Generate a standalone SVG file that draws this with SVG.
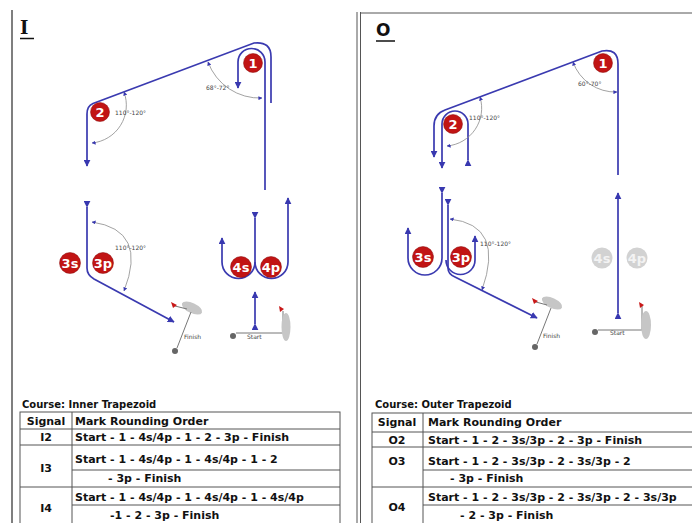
<svg xmlns="http://www.w3.org/2000/svg" width="692" height="523" viewBox="0 0 692 523">
<defs>
<marker id="arr" viewBox="0 0 10 10" refX="9" refY="5" markerWidth="7" markerHeight="7" orient="auto" markerUnits="userSpaceOnUse"><path d="M0 0 L10 5 L0 10 z" fill="#3838b0"/></marker>
<marker id="sarr" viewBox="0 0 10 10" refX="9" refY="5" markerWidth="4" markerHeight="4" orient="auto-start-reverse" markerUnits="userSpaceOnUse"><path d="M0 0 L10 5 L0 10 z" fill="#3838b0"/></marker>
</defs>
<style>
.c{fill:none;stroke:#3a3ab0;stroke-width:1.7}
.ang{fill:none;stroke:#8a8a8a;stroke-width:0.8}
.mk circle{fill:#c11414;stroke:#8a0b0b;stroke-width:.5}
.mk text{fill:#fff;font-family:"DejaVu Sans",sans-serif;font-weight:bold;font-size:13px;text-anchor:middle}
.gm circle{fill:#d2d2d2}
.gm text{fill:#f3f3f3;font-family:"DejaVu Sans",sans-serif;font-weight:bold;font-size:13px;text-anchor:middle}
.al{font-family:"DejaVu Sans",sans-serif;font-size:6px;fill:#444}
.sm{font-family:"DejaVu Sans",sans-serif;font-size:6px;fill:#444}
.t{font-family:"DejaVu Sans",sans-serif;font-weight:bold;font-size:11px;fill:#111}
.tc{text-anchor:middle}
.cap{font-family:"DejaVu Sans",sans-serif;font-weight:bold;font-size:10px;fill:#111}
.grid{stroke:#555;stroke-width:1;fill:none}
.boat{fill:#c6c6c6}
.flag{fill:#c81818}
.fl{stroke:#777;stroke-width:1;fill:none}
.pin{fill:#666}
.frame{stroke:#555;fill:none}
</style>
<rect width="692" height="523" fill="#fff"/>

<g id="frames">
<line class="frame" x1="12" y1="10" x2="12" y2="523" stroke-width="1.5"/>
<line class="frame" x1="357" y1="12" x2="357" y2="523" stroke="#999"/>
<line class="frame" x1="360.5" y1="12" x2="360.5" y2="523"/>
<line class="frame" x1="360" y1="13" x2="692" y2="13" stroke="#777"/>
</g>

<g id="titles">
<text x="20" y="34" font-family="DejaVu Serif, serif" font-weight="bold" font-size="18" fill="#111">I</text>
<line x1="20" y1="38.5" x2="34" y2="38.5" stroke="#111" stroke-width="1.5"/>
<text x="376" y="36" font-family="DejaVu Sans, sans-serif" font-weight="bold" font-size="17" fill="#111">O</text>
<line x1="376" y1="41" x2="395" y2="41" stroke="#111" stroke-width="1.5"/>
</g>

<g id="connectors">
<path class="c" d="M 271 103 L 271 57 Q 271 41 254 43 L 93 103.5 Q 87 106 87 114 L 87 166" marker-end="url(#arr)"/>
<path class="c" d="M 265 190 L 265 62 A 13.5 13.5 0 0 0 238 62 L 238 88" marker-end="url(#arr)"/>
<path class="c" d="M 87 207 L 87 268 Q 87 275 94 279 L 174 322" marker-start="url(#arr)" marker-end="url(#arr)"/>
<path class="c" d="M 255 218 L 255 262 A 16.5 16.5 0 0 1 222 262 L 222 238" marker-start="url(#arr)" marker-end="url(#arr)"/>
<path class="c" d="M 255 262 A 16.5 16.5 0 0 0 288 262 L 288 198" marker-end="url(#arr)"/>
<path class="c" d="M 255 324 L 255 292" marker-start="url(#arr)" marker-end="url(#arr)"/>
<path class="c" d="M 618 175 L 618 64 Q 618 48 602 51 L 445 110 Q 434 114 434 126 L 434 157" marker-end="url(#arr)"/>
<path class="c" d="M 468 160 L 468 124 A 13 13 0 0 0 442 124 L 442 168" marker-start="url(#arr)" marker-end="url(#arr)"/>
<path class="c" d="M 442 193 L 442 258 A 17 17 0 0 1 408 258 L 408 228" marker-start="url(#arr)" marker-end="url(#arr)"/>
<path class="c" d="M 446 260 A 14.5 14.5 0 0 0 475 260 L 475 236" marker-end="url(#arr)"/>
<path class="c" d="M 448 205 L 448 268 Q 448 274 455 277 L 537 318" marker-start="url(#arr)" marker-end="url(#arr)"/>
<path class="c" d="M 618 313 L 618 193" marker-start="url(#arr)" marker-end="url(#arr)"/>
</g>

<g id="angles">
<path class="ang" d="M 208 62 A 55 55 0 0 0 262 98" marker-start="url(#sarr)" marker-end="url(#sarr)"/>
<text class="al" x="206" y="90">68°-72°</text>
<path class="ang" d="M 124 92 A 38 38 0 0 1 92 143" marker-start="url(#sarr)" marker-end="url(#sarr)"/>
<text class="al" x="115" y="115">110°-120°</text>
<path class="ang" d="M 92 222 Q 148 230 124 291" marker-start="url(#sarr)" marker-end="url(#sarr)"/>
<text class="al" x="115" y="250">110°-120°</text>
<path class="ang" d="M 573 62 A 45 45 0 0 0 617 92" marker-start="url(#sarr)" marker-end="url(#sarr)"/>
<text class="al" x="578" y="86">60°-70°</text>
<path class="ang" d="M 480 97 A 38 38 0 0 1 447 146" marker-start="url(#sarr)" marker-end="url(#sarr)"/>
<text class="al" x="469" y="120">110°-120°</text>
<path class="ang" d="M 450 219 Q 505 225 482 290" marker-start="url(#sarr)" marker-end="url(#sarr)"/>
<text class="al" x="480" y="246">110°-120°</text>
</g>

<g id="I-mark1" class="mk"><circle cx="253" cy="63" r="9.5"/><text x="253" y="67.5">1</text></g>
<g id="I-mark2" class="mk"><circle cx="100" cy="112" r="9.5"/><text x="100" y="116.5">2</text></g>
<g id="I-mark3s" class="mk"><circle cx="70" cy="263" r="10.5"/><text x="70" y="267.5">3s</text></g>
<g id="I-mark3p" class="mk"><circle cx="103" cy="263" r="10.5"/><text x="103" y="267.5">3p</text></g>
<g id="I-mark4s" class="mk"><circle cx="241" cy="267" r="10.5"/><text x="241" y="271.5">4s</text></g>
<g id="I-mark4p" class="mk"><circle cx="271" cy="267" r="10.5"/><text x="271" y="271.5">4p</text></g>

<g id="I-finish">
<ellipse class="boat" cx="192" cy="308" rx="11" ry="5" transform="rotate(25 192 308)"/>
<line class="fl" x1="175" y1="306" x2="187" y2="309"/>
<polygon class="flag" points="171,302 177,305 173,308"/>
<line class="fl" x1="191" y1="312" x2="177" y2="348"/>
<circle class="pin" cx="175" cy="351" r="3"/>
<text class="sm" x="184" y="339">Finish</text>
</g>
<g id="I-start">
<circle class="pin" cx="233" cy="336" r="3"/>
<polyline class="fl" points="236,333 283,333 283,311"/>
<ellipse class="boat" cx="286" cy="327" rx="4.5" ry="14"/>
<polygon class="flag" points="279,306 284,309 280,312"/>
<text class="sm" x="247" y="339">Start</text>
</g>

<g id="O-mark1" class="mk"><circle cx="603" cy="63" r="9.5"/><text x="603" y="67.5">1</text></g>
<g id="O-mark2" class="mk"><circle cx="453" cy="124" r="9.5"/><text x="453" y="128.5">2</text></g>
<g id="O-mark3s" class="mk"><circle cx="423" cy="257" r="10.5"/><text x="423" y="261.5">3s</text></g>
<g id="O-mark3p" class="mk"><circle cx="461" cy="257" r="10.5"/><text x="461" y="261.5">3p</text></g>
<g id="O-mark4s" class="gm"><circle cx="602" cy="258" r="10.5"/><text x="602" y="262.5">4s</text></g>
<g id="O-mark4p" class="gm"><circle cx="637" cy="258" r="10.5"/><text x="637" y="262.5">4p</text></g>

<g id="O-finish">
<ellipse class="boat" cx="552" cy="303" rx="11" ry="5" transform="rotate(25 552 303)"/>
<line class="fl" x1="536" y1="302" x2="547" y2="305"/>
<polygon class="flag" points="532,298 538,301 534,304"/>
<line class="fl" x1="551" y1="308" x2="537" y2="344"/>
<circle class="pin" cx="535" cy="347" r="3"/>
<text class="sm" x="543" y="338">Finish</text>
</g>
<g id="O-start">
<circle class="pin" cx="595" cy="332" r="3"/>
<polyline class="fl" points="598,330 642,330 642,306"/>
<ellipse class="boat" cx="646" cy="325" rx="5" ry="14"/>
<polygon class="flag" points="639,302 644,305 640,308"/>
<text class="sm" x="610" y="335">Start</text>
</g>

<g id="table-I">
<text class="cap" x="22" y="408">Course: Inner Trapezoid</text>
<rect class="grid" x="20" y="412" width="320" height="120"/>
<line class="grid" x1="72" y1="412" x2="72" y2="523"/>
<line class="grid" x1="20" y1="429" x2="340" y2="429"/>
<line class="grid" x1="20" y1="445" x2="340" y2="445"/>
<line class="grid" x1="72" y1="470" x2="340" y2="470"/>
<line class="grid" x1="20" y1="487" x2="340" y2="487"/>
<line class="grid" x1="72" y1="505" x2="340" y2="505"/>
<text class="t tc" x="46" y="425">Signal</text>
<text class="t" x="75" y="425">Mark Rounding Order</text>
<text class="t tc" x="46" y="441">I2</text>
<text class="t" x="75" y="441">Start - 1 - 4s/4p - 1 - 2 - 3p - Finish</text>
<text class="t tc" x="46" y="472">I3</text>
<text class="t" x="75" y="463">Start - 1 - 4s/4p - 1 - 4s/4p - 1 - 2</text>
<text class="t" x="108" y="482">- 3p - Finish</text>
<text class="t tc" x="46" y="512">I4</text>
<text class="t" x="75" y="501">Start - 1 - 4s/4p - 1 - 4s/4p - 1 - 4s/4p</text>
<text class="t" x="110" y="519">-1 - 2 - 3p - Finish</text>
</g>

<g id="table-O">
<text class="cap" x="375" y="408">Course: Outer Trapezoid</text>
<rect class="grid" x="372" y="413" width="330" height="120"/>
<line class="grid" x1="423" y1="413" x2="423" y2="523"/>
<line class="grid" x1="372" y1="432" x2="692" y2="432"/>
<line class="grid" x1="372" y1="447" x2="692" y2="447"/>
<line class="grid" x1="423" y1="470" x2="692" y2="470"/>
<line class="grid" x1="372" y1="487" x2="692" y2="487"/>
<line class="grid" x1="423" y1="505" x2="692" y2="505"/>
<text class="t tc" x="397" y="426">Signal</text>
<text class="t" x="428" y="426">Mark Rounding Order</text>
<text class="t tc" x="397" y="444">O2</text>
<text class="t" x="428" y="444">Start - 1 - 2 - 3s/3p - 2 - 3p - Finish</text>
<text class="t tc" x="397" y="465">O3</text>
<text class="t" x="428" y="465">Start - 1 - 2 - 3s/3p - 2 - 3s/3p - 2</text>
<text class="t" x="450" y="482">- 3p - Finish</text>
<text class="t tc" x="397" y="511">O4</text>
<text class="t" x="428" y="501">Start - 1 - 2 - 3s/3p - 2 - 3s/3p - 2 - 3s/3p</text>
<text class="t" x="460" y="519">- 2 - 3p - Finish</text>
</g>
</svg>
